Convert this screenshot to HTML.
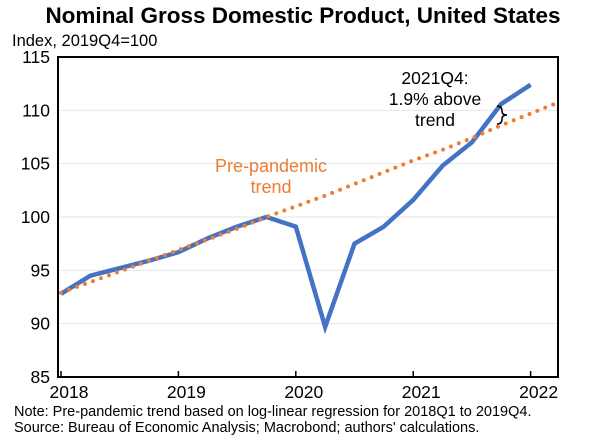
<!DOCTYPE html>
<html><head><meta charset="utf-8"><style>
body{margin:0;background:#fff;font-family:"Liberation Sans",Arial,sans-serif;}
svg text{font-family:"Liberation Sans",Arial,sans-serif;}
</style></head><body>
<svg id="chart" width="606" height="440" viewBox="0 0 606 440">
<text x="303" y="23" text-anchor="middle" font-size="22.5" font-weight="bold">Nominal Gross Domestic Product, United States</text>
<text x="12" y="46" font-size="16.5">Index, 2019Q4=100</text>
<g id="grid"></g>
<g id="yticks"></g>
<g id="xticks"></g>
<g id="series"></g>
<rect x="58" y="57" width="500" height="320" fill="none" stroke="#000" stroke-width="2"/>
<text x="271" y="172" font-size="18" fill="#ED7D31" text-anchor="middle">Pre-pandemic</text>
<text x="271" y="193" font-size="18" fill="#ED7D31" text-anchor="middle">trend</text>
<text x="435" y="84" font-size="17.5" text-anchor="middle">2021Q4:</text>
<text x="435" y="105" font-size="17.5" text-anchor="middle">1.9% above</text>
<text x="435" y="126" font-size="17.5" text-anchor="middle">trend</text>
<path d="M497,106 Q502,106 502,111 Q502,115 507,115 Q502,115 502,119 Q502,124 497,124" fill="none" stroke="#000" stroke-width="1.5"/>
<text x="14" y="416" font-size="14.5">Note: Pre-pandemic trend based on log-linear regression for 2018Q1 to 2019Q4.</text>
<text x="14" y="432" font-size="14.5">Source: Bureau of Economic Analysis; Macrobond; authors' calculations.</text>
</svg>
<script>
const yTicks=[85,90,95,100,105,110,115];
const xTickLabels=["2018","2019","2020","2021","2022"];
const gdpValues=[92.8,94.5,95.2,95.9,96.7,98.0,99.1,100.0,99.1,89.7,97.5,99.1,101.6,104.8,107.0,110.6,112.4];
const trendValues=[92.9,93.9,94.9,95.9,96.9,97.9,98.9,100.0,101.0,102.0,103.1,104.2,105.3,106.3,107.4,108.6,109.7,110.8];
const NS="http://www.w3.org/2000/svg";
const x=q=>61+q*29.35;
const y=v=>217+(100-v)*10.667;
function mk(t,a,p){const e=document.createElementNS(NS,t);for(const k in a)e.setAttribute(k,a[k]);p.appendChild(e);return e;}
const grid=document.getElementById('grid'),yt=document.getElementById('yticks'),xt=document.getElementById('xticks'),ser=document.getElementById('series');
yTicks.forEach(v=>{
 const l=mk('line',{x1:58,x2:558,y1:y(v),y2:y(v),stroke:'#e6e6e6','stroke-width':1},grid);
 
 
 const t=mk('text',{x:50,y:y(v)+6,'text-anchor':'end','font-size':17.5},yt);
 t.textContent=v;
 
 
});
xTickLabels.forEach((s,i)=>{
 const px=x(i*4);
 const l=mk('line',{x1:px,x2:px,y1:377,y2:371,stroke:'#000','stroke-width':1.5},xt);
 
 
 const t=mk('text',{x:px+8,y:398,'text-anchor':'middle','font-size':17.5},xt);
 t.textContent=s;
 
 
});
mk('clipPath',{id:'clip'},ser).appendChild(document.createElementNS(NS,'rect'));
const cr=ser.querySelector('#clip rect');cr.setAttribute('x',58);cr.setAttribute('y',57);cr.setAttribute('width',500);cr.setAttribute('height',320);
const tr=mk('polyline',{points:trendValues.map((v,i)=>x(i)+','+y(v)).join(' '),fill:'none',stroke:'#ED7D31','stroke-width':4,'stroke-dasharray':'0 8.5','stroke-linecap':'round','clip-path':'url(#clip)'},ser);


const gl=mk('polyline',{points:gdpValues.map((v,i)=>x(i)+','+y(v)).join(' '),fill:'none',stroke:'#4472C4','stroke-width':4.5,'stroke-linejoin':'miter'},ser);


ser.appendChild(tr);
</script>
</body></html>
